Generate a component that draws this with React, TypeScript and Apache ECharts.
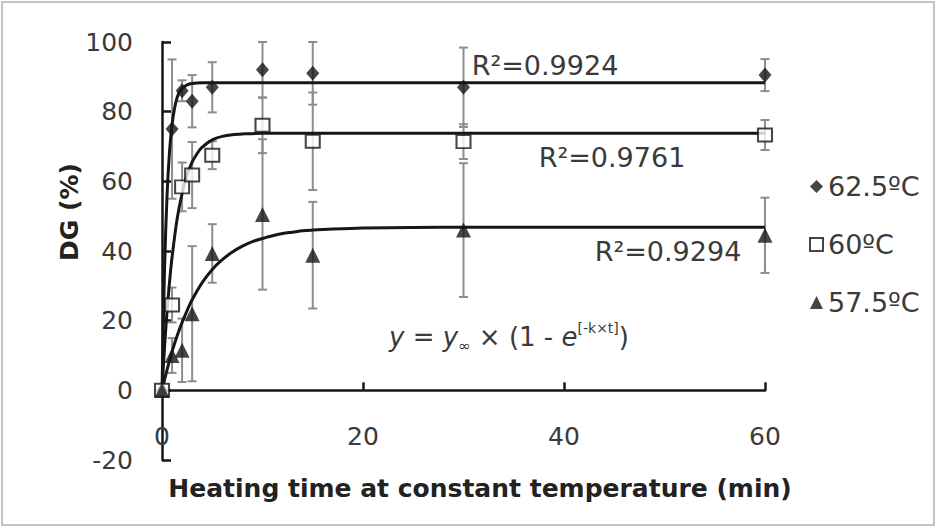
import React, { useEffect, useRef } from 'react';
import * as echarts from 'echarts';

// Sampling times (min)
const times = [0, 1, 2, 3, 5, 10, 15, 30, 60];
const seriesNames = ['62.5ºC', '60ºC', '57.5ºC'];

// Measured DG (%) and error bar half-lengths
const dg625 = [0, 75, 86, 83, 87, 92, 91, 87, 90.5];
const err625 = [0, 20, 3, 7.5, 7.2, 8, 9, 11.4, 4.6];
const dg60 = [0, 24.5, 58.4, 61.8, 67.5, 76.1, 71.5, 71.4, 73.3];
const err60 = [0, 5, 7, 9.5, 4, 8, 14, 5, 4.3];
const dg575 = [0, 10, 11.5, 22, 39.3, 50.5, 38.8, 46, 44.5];
const err575 = [0, 5, 9.1, 19.4, 8.4, 21.6, 15.3, 19.2, 10.8];

// Fitted curves
const fitT625 = [0, 0.25, 0.5, 0.75, 1, 1.25, 1.5, 1.75, 2, 2.5, 3, 4, 5, 60];
const fit625 = [0, 34.7, 55.8, 68.6, 76.3, 81, 84, 85.7, 86.7, 87.7, 88.1, 88.3, 88.3, 88.3];
const fitT60 = [0, 0.25, 0.5, 0.75, 1, 1.5, 2, 2.5, 3, 3.5, 4, 5, 6, 7, 8, 10, 15, 60];
const fit60 = [0, 12.3, 22.6, 31.1, 38.2, 49.1, 56.5, 61.9, 65.5, 68, 69.8, 71.9, 72.9, 73.4, 73.6, 73.8, 73.8, 73.8];
const fitT575 = [0, 0.5, 1, 1.5, 2, 2.5, 3, 4, 5, 6, 7, 8, 9, 10, 11, 12, 13, 14, 15, 17, 20, 25, 30, 60];
const fit575 = [0, 5.9, 11.1, 15.6, 19.5, 22.9, 26, 30.9, 34.7, 37.5, 39.7, 41.4, 42.7, 43.6, 44.4, 45, 45.4, 45.8, 46, 46.3, 46.6, 46.75, 46.8, 46.8];

const r2Labels = ['R²=0.9924', 'R²=0.9761', 'R²=0.9294'];
const xTitle = 'Heating time at constant temperature (min)';
const yTitle = 'DG (%)';

const FONT = '"DejaVu Sans", sans-serif';
const TEXT = '#3a3a3a';
const INK = '#161616';

function errorSeries(vals: number[], errs: number[]) {
  return {
    type: 'custom',
    silent: true,
    z: 1,
    data: times.map((t, i) => [t, vals[i] - errs[i], vals[i] + errs[i]]),
    encode: { x: 0, y: [1, 2] },
    renderItem: (params: any, api: any) => {
      const x = api.value(0);
      const lo = api.coord([x, api.value(1)]);
      const hi = api.coord([x, api.value(2)]);
      if (Math.abs(hi[1] - lo[1]) < 1) return null;
      const w = 4.5;
      const style = { stroke: '#8d8d8d', lineWidth: 2, fill: 'none' };
      return {
        type: 'group',
        children: [
          { type: 'line', shape: { x1: lo[0], y1: lo[1], x2: hi[0], y2: hi[1] }, style },
          { type: 'line', shape: { x1: lo[0] - w, y1: lo[1], x2: lo[0] + w, y2: lo[1] }, style },
          { type: 'line', shape: { x1: hi[0] - w, y1: hi[1], x2: hi[0] + w, y2: hi[1] }, style },
        ],
      };
    },
  };
}

function fitSeries(ts: number[], ys: number[]) {
  return {
    type: 'line',
    data: ts.map((t, i) => [t, ys[i]]),
    showSymbol: false,
    symbol: 'none',
    smooth: 0.3,
    silent: true,
    z: 2,
    lineStyle: { color: INK, width: 3 },
  };
}

export default function App() {
  const ref = useRef<HTMLDivElement>(null);
  useEffect(() => {
    if (!ref.current) return;
    const chart = echarts.init(ref.current, undefined, { renderer: 'svg' });
    const option: any = {
      animation: false,
      backgroundColor: '#ffffff',
      grid: { left: 162, right: 172, top: 42, bottom: 69, containLabel: false },
      xAxis: {
        type: 'value',
        min: 0,
        max: 60,
        interval: 20,
        axisLine: { onZero: true, lineStyle: { color: INK, width: 2.5 } },
        axisTick: { show: true, inside: true, length: 8, lineStyle: { color: INK, width: 2.5 } },
        axisLabel: { margin: -36, fontFamily: FONT, fontSize: 25, color: TEXT, showMinLabel: true },
        splitLine: { show: false },
      },
      yAxis: {
        type: 'value',
        min: -20,
        max: 100,
        interval: 20,
        axisLine: { show: true, onZero: false, lineStyle: { color: INK, width: 2.5 } },
        axisTick: { show: true, inside: true, length: 9, lineStyle: { color: INK, width: 2.5 } },
        axisLabel: { margin: 29, fontFamily: FONT, fontSize: 25, color: TEXT },
        splitLine: { show: false },
      },
      legend: {
        data: seriesNames,
        orient: 'vertical',
        left: 804,
        top: 168,
        itemGap: 31,
        itemWidth: 13,
        itemHeight: 13,
        selectedMode: false,
        textStyle: { fontFamily: FONT, fontSize: 27, color: TEXT },
      },
      series: [
        errorSeries(dg625, err625),
        errorSeries(dg60, err60),
        errorSeries(dg575, err575),
        fitSeries(fitT625, fit625),
        fitSeries(fitT60, fit60),
        fitSeries(fitT575, fit575),
        {
          name: seriesNames[0],
          type: 'scatter',
          symbol: 'diamond',
          symbolSize: [13, 15],
          z: 3,
          itemStyle: { color: INK },
          data: times.map((t, i) => [t, dg625[i]]),
        },
        {
          name: seriesNames[1],
          type: 'scatter',
          symbol: 'rect',
          symbolSize: [14, 13],
          z: 3,
          itemStyle: { color: '#ffffff', borderColor: INK, borderWidth: 2 },
          data: times.map((t, i) => [t, dg60[i]]),
        },
        {
          name: seriesNames[2],
          type: 'scatter',
          symbol: 'triangle',
          symbolSize: 15,
          z: 3,
          itemStyle: { color: INK },
          data: times.map((t, i) => [t, dg575[i]]),
        },
      ],
      graphic: [
        {
          type: 'rect',
          silent: true,
          shape: { x: 2, y: 2, width: 932, height: 523 },
          style: { fill: 'none', stroke: '#c4c4c4', lineWidth: 2 },
        },
        {
          type: 'text',
          x: 69,
          y: 212,
          rotation: Math.PI / 2,
          style: {
            text: yTitle,
            font: `bold 25px ${FONT}`,
            fill: '#222',
            textAlign: 'center',
            textVerticalAlign: 'middle',
            align: 'center',
            verticalAlign: 'middle',
          },
        },
        {
          type: 'text',
          x: 480,
          y: 488,
          style: {
            text: xTitle,
            font: `bold 25px ${FONT}`,
            fill: '#222',
            textAlign: 'center',
            textVerticalAlign: 'middle',
            align: 'center',
            verticalAlign: 'middle',
          },
        },
        ...[
          [545, 65],
          [612, 157],
          [668, 251],
        ].map((p, i) => ({
          type: 'text',
          x: p[0],
          y: p[1],
          style: {
            text: r2Labels[i],
            font: `27px ${FONT}`,
            fill: TEXT,
            textAlign: 'center',
            textVerticalAlign: 'middle',
            align: 'center',
            verticalAlign: 'middle',
          },
        })),
        {
          type: 'text',
          x: 509,
          y: 337,
          style: {
            text: '{i|y} = {i|y}{sub|∞} × (1 - {i|e}{sup|[-k×t]})',
            font: `26px ${FONT}`,
            fill: TEXT,
            textAlign: 'center',
            textVerticalAlign: 'middle',
            align: 'center',
            verticalAlign: 'middle',
            rich: {
              i: { fontStyle: 'italic', fontSize: 26, fontFamily: FONT, lineHeight: 32, fill: TEXT, color: TEXT },
              sub: { fontSize: 15, fontFamily: FONT, verticalAlign: 'bottom', lineHeight: 30, fill: TEXT, color: TEXT },
              sup: { fontSize: 14, fontFamily: FONT, verticalAlign: 'top', lineHeight: 14, fill: TEXT, color: TEXT },
            },
          },
        },
      ],
    };
    chart.setOption(option);
    return () => chart.dispose();
  }, []);
  return (
    <div
      ref={ref}
      style={{ position: 'fixed', left: 0, top: 0, width: 937, height: 529, background: '#fff' }}
    />
  );
}
